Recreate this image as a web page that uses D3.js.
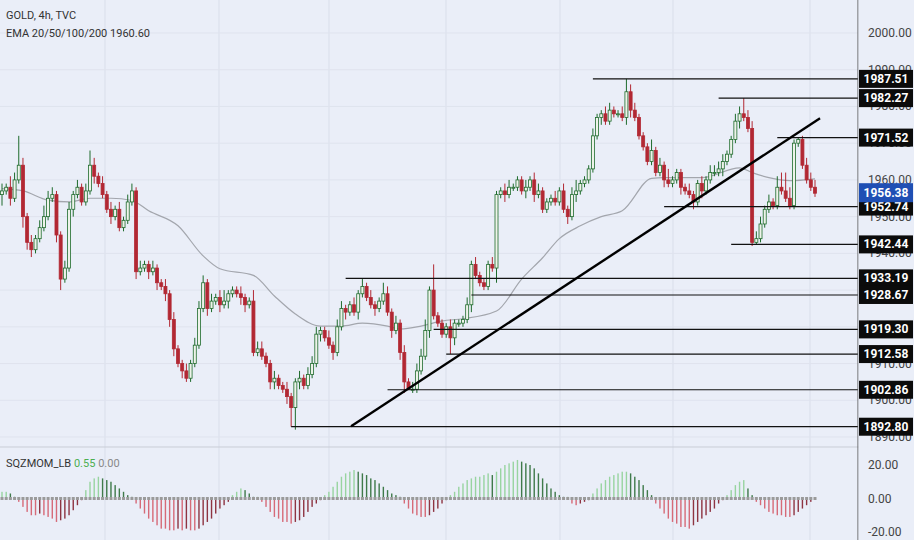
<!DOCTYPE html>
<html><head><meta charset="utf-8">
<script src="https://cdn.jsdelivr.net/npm/d3@7"></script>
<style>body{margin:0;background:#eaeef8}svg{display:block}</style>
</head><body><div id="chart"></div>
<script>
// closes per 4h bar (open = previous close)
var closes = [1957,1958,1955,1960,1964, 1950,1943,1941,1944,1947, 1950,1955,1956,1945,1933,
  1936,1952,1956,1958,1954, 1957,1964,1961,1959,1956, 1952,1950,1952,1947,1949,
  1954,1957,1935,1936,1937, 1935,1936,1932,1931,1929, 1922,1914,1910,1908,1906,
  1910,1915,1925,1932,1925, 1927,1928,1926,1927,1929, 1930,1929,1928,1926,1927,
  1913,1914,1912,1910,1905, 1906,1904,1903,1901,1898, 1905,1906,1904,1907,1910,
  1918,1919,1917,1915,1913, 1920,1925,1924,1926,1924, 1929,1931,1928,1926,1925,
  1927,1929,1924,1919,1921, 1913,1905,1903,1903,1908, 1912,1919,1930,1923,1921,
  1918,1920,1917,1921,1921, 1922,1926,1937,1934,1932, 1931,1937,1936,1956,1957,
  1956,1958,1958,1960,1957, 1958,1960,1956,1957,1952, 1954,1955,1954,1957,1952,
  1950,1956,1957,1959,1960, 1963,1972,1977,1978,1976, 1979,1978,1978,1977,1984,
  1979,1977,1972,1969,1965, 1968,1962,1964,1960,1959, 1960,1962,1958,1957,1956,
  1954,1959,1957,1960,1962, 1962,1963,1965,1967,1971, 1976,1978,1977,1974,1943,
  1944,1948,1952,1954,1953, 1958,1957,1955,1953,1970, 1971,1964,1960,1958,1956.38];
var firstOpen = 1956;
// wick extension above / below body
var upWick = [2,1,3,2,8, 2,1,2,1,2, 3,2,2,1,1, 2,2,1,2,1, 2,4,2,1,2, 1,2,1,2,1,
  2,2,1,2,1, 1,2,1,1,2, 1,2,1,1,2, 1,2,2,2,1, 2,1,2,3,1, 1,1,2,1,1, 3,2,2,1,1,
  2,1,1,2,1, 1,2,1,2,2, 2,1,1,2,1, 2,2,1,1,2, 1,2,1,2,1, 1,3,2,1,2, 1,2,1,2,2,
  2,3,1,3,1, 1,1,2,1,1, 1,2,1,2,1, 1,1,2,1,1, 2,2,1,1,1, 2,1,2,2,1, 1,1,2,1,2,
  1,2,3,1,1, 1,2,1,1,2, 2,1,1,2,2, 2,2,1,1,1, 3,1,2,1,3, 1,1,1,1,2, 1,1,2,1,2,
  2,2,2,1,1, 2,2,1,2,2, 2,2,1,2,1, 3,4,5,3,1, 1,1,2,2,2, 2,2,1,2,1, 0,2,1,2,1];
var downWick = [3,1,2,1,1, 3,2,2,1,1, 1,1,1,2,3, 1,1,2,1,1, 1,1,2,1,1, 1,2,1,1,1,
  1,1,2,1,1, 2,1,2,1,2, 2,2,1,2,1, 1,1,1,1,2, 1,1,2,1,2, 1,1,2,2,1, 1,1,1,1,2,
  2,1,1,2,1, 6,2,1,1,1, 1,2,1,1,2, 1,1,2,1,1, 2,1,1,1,2, 1,1,1,2,1, 2,3,1,1,1,
  1,1,2,1,1, 1,1,1,2,1, 1,1,2,1,1, 1,1,1,4,1, 2,1,1,1,1, 2,1,2,1,1, 1,1,1,1,1,
  2,1,2,1,1, 1,1,1,2,1, 1,1,1,1,2, 2,1,1,1,1, 1,1,1,2,1, 1,1,2,1,1, 2,1,2,1,1,
  1,1,2,1,1, 1,2,1,1,1, 2,1,1,1,1, 1,1,1,1,1, 1,1,1,1,1, 2,2,1,2,1, 1,1,1,1,2];
// EMA (index, value)
var emaPts = [[0,1957.6],[5,1957],[11,1954.5],[16,1954],[21,1955],[26,1955],[31,1954.4],[35,1951.6],
  [42,1947.5],[48,1939.3],[52,1935.8],[60,1934],[65,1928.4],[70,1923.5],[76,1920.2],[81,1920.2],
  [86,1921],[92,1920.2],[95,1919.4],[100,1920.2],[105,1921.6],[110,1922.2],[118,1924.3],[124,1933],
  [129,1938.8],[133,1944],[138,1947.5],[143,1950],[148,1951.6],[155,1960.4],[158,1960.6],[167,1960.6],
  [176,1963.3],[179,1962],[183,1960.6],[188,1959.8],[194,1960.3]];
// horizontal levels: price, start bar
var levels = [1987.51,1982.27,1971.52,1952.74,1942.44,1933.19,1928.67,1919.30,1912.58,1902.86,1892.80];
var levelStart = [141,171,185,158,174,82,112,103,106,92,69];
var trend = [[83.3,1892.9],[195.2,1976.8]];
var priceTicks = [2000,1990,1980,1970,1960,1950,1940,1930,1920,1910,1900,1890];
var lastPrice = 1956.38;
// squeeze momentum histogram
var mom = [4,4,3,1,
  -2,-5,-8,-10,-10,-9,-10,-11,-12,-14,-13,-12,-10,-7,-4,-1,
  5,10,12,13,12,11,10,8,6,4,2,1,
  -3,-6,-9,-12,-14,-16,-18,-18,-19,-19,-18,-19,-18,-19,-19,-18,-16,-14,-12,-9,-6,-4,-2,
  2,4,6,5,3,1,1,
  -2,-5,-8,-11,-12,-14,-14,-15,-14,-13,-11,-8,-5,-3,-1,
  2,4,7,10,13,15,16,17,16,15,14,12,11,9,7,5,3,2,1,
  -3,-6,-9,-10,-11,-11,-10,-8,-6,-3,-1,
  2,4,7,9,11,12,13,13,14,15,14,16,18,20,21,22,23,22,21,20,18,15,12,9,6,4,2,1,1,
  -3,-4,-3,-2,-1,
  3,6,9,11,13,14,15,16,16,15,13,11,8,5,2,
  -3,-6,-9,-12,-14,-15,-17,-17,-18,-16,-14,-12,-10,-8,-6,-3,-1,
  2,5,8,10,11,6,2,
  -2,-4,-6,-8,-9,-10,-10,-11,-11,-10,-8,-6,-4,-2,0.55];
var momTicks = [20,0,-20];
var vGrid = [105,219,329,446,560,673,810];

var W = 914, H = 540, axisX = 858, panelY = 447;
var svg = d3.select('#chart').append('svg').attr('width', W).attr('height', H);
svg.append('rect').attr('width', W).attr('height', H).attr('fill', '#eaeef8');

var x = d3.scaleLinear().domain([0, 194]).range([2, 815]);
var y = d3.scaleLinear().domain([1890, 2000]).range([437, 33]);
var ym = d3.scaleLinear().domain([-20, 20]).range([532, 465]);

// grid
svg.selectAll('.vg').data(vGrid).enter().append('line')
    .attr('x1', d => d).attr('x2', d => d).attr('y1', 0).attr('y2', H)
    .attr('stroke', '#d9deea').attr('stroke-width', 1);
svg.selectAll('.hg').data(priceTicks).enter().append('line')
    .attr('x1', 0).attr('x2', axisX).attr('y1', d => y(d)).attr('y2', d => y(d))
    .attr('stroke', '#dfe3ee').attr('stroke-width', 1);

// ema
svg.append('path').datum(emaPts)
    .attr('d', d3.line().x(d => x(d[0])).y(d => y(d[1])).curve(d3.curveMonotoneX))
    .attr('fill', 'none').attr('stroke', '#a3a6ad').attr('stroke-width', 1.2);

// candles
var bars = closes.map(function(c, i) {
    var o = i === 0 ? firstOpen : closes[i - 1];
    return {i: i, o: o, c: c, h: Math.max(o, c) + upWick[i], l: Math.min(o, c) - downWick[i]};
});
// pin key extremes to the marked levels
bars[69].l = 1892.8; bars[97].l = 1902.86; bars[103].h = 1937; bars[107].l = 1912.58;
bars[149].h = 1987.51; bars[177].h = 1982.27; bars[180].l = 1942.44; bars[190].h = 1971.52;

var gC = svg.append('g');
gC.selectAll('.wick').data(bars).enter().append('line')
    .attr('x1', d => x(d.i)).attr('x2', d => x(d.i))
    .attr('y1', d => y(d.h)).attr('y2', d => y(d.l))
    .attr('stroke', d => d.c >= d.o ? '#1e6b2c' : '#b22833').attr('stroke-width', 1);
gC.selectAll('.body').data(bars).enter().append('rect')
    .attr('x', d => x(d.i) - 1.5).attr('width', 3)
    .attr('y', d => y(Math.max(d.o, d.c)))
    .attr('height', d => Math.max(1, Math.abs(y(d.o) - y(d.c))))
    .attr('fill', d => d.c >= d.o ? '#eef3ea' : '#b22833')
    .attr('stroke', d => d.c >= d.o ? '#1e6b2c' : '#b22833').attr('stroke-width', 0.8);

// levels
svg.selectAll('.lvl').data(levels).enter().append('line')
    .attr('x1', (d, i) => x(levelStart[i])).attr('x2', axisX)
    .attr('y1', d => y(d)).attr('y2', d => y(d))
    .attr('stroke', '#111').attr('stroke-width', 1.2);

// trendline
svg.append('line')
    .attr('x1', x(trend[0][0])).attr('y1', y(trend[0][1]))
    .attr('x2', x(trend[1][0])).attr('y2', y(trend[1][1]))
    .attr('stroke', '#000').attr('stroke-width', 2.4);

// panel separators
svg.append('line').attr('x1', 0).attr('x2', W).attr('y1', panelY).attr('y2', panelY)
    .attr('stroke', '#c9cdd6').attr('stroke-width', 1);
svg.append('line').attr('x1', axisX).attr('x2', axisX).attr('y1', 0).attr('y2', H)
    .attr('stroke', '#555').attr('stroke-width', 1);

// price axis
svg.append('rect').attr('x', axisX + 0.5).attr('y', 0).attr('width', W - axisX).attr('height', H).attr('fill', '#eaeef8');
svg.selectAll('.pt').data(priceTicks).enter().append('text')
    .attr('x', 868).attr('y', d => y(d) + 4).text(d => d.toFixed(2))
    .attr('font-family', 'Roboto, sans-serif').attr('font-size', '12px').attr('fill', '#444');
var gL = svg.selectAll('.lb').data(levels).enter().append('g')
    .attr('transform', d => `translate(${axisX + 1}, ${y(d) - 9})`);
gL.append('rect').attr('width', 54).attr('height', 18).attr('fill', '#0b0b0b');
gL.append('text').attr('x', 27).attr('y', 13).attr('text-anchor', 'middle').text(d => d.toFixed(2))
    .attr('font-family', 'Roboto, sans-serif').attr('font-size', '12px').attr('font-weight', 'bold').attr('fill', '#fff');
var gP = svg.append('g').attr('transform', `translate(${axisX + 1}, ${y(lastPrice) - 10})`);
gP.append('rect').attr('width', 54).attr('height', 19).attr('fill', '#1f4fb4');
gP.append('text').attr('x', 27).attr('y', 14).attr('text-anchor', 'middle').text(lastPrice.toFixed(2))
    .attr('font-family', 'Roboto, sans-serif').attr('font-size', '12px').attr('font-weight', 'bold').attr('fill', '#fff');

// momentum histogram
var momBars = mom.map(function(v, i) {
    var prev = i === 0 ? v : mom[i - 1];
    var col = v >= 0 ? (v >= prev ? '#98d4a0' : '#3f7a4a') : (v <= prev ? '#d66a78' : '#8e3442');
    return {i: i, v: v, col: col};
});
svg.selectAll('.mb').data(momBars).enter().append('rect')
    .attr('x', d => x(d.i) - 0.7).attr('width', 1.4)
    .attr('y', d => Math.min(ym(d.v), ym(0))).attr('height', d => Math.abs(ym(d.v) - ym(0)))
    .attr('fill', d => d.col);
svg.selectAll('.mz').data(momBars).enter().append('rect')
    .attr('x', d => x(d.i) - 1.5).attr('y', ym(0) - 1.5).attr('width', 3).attr('height', 3)
    .attr('fill', '#9a9a9a');
svg.selectAll('.mt').data(momTicks).enter().append('text')
    .attr('x', 868).attr('y', d => ym(d) + 4).text(d => d.toFixed(2))
    .attr('font-family', 'Roboto, sans-serif').attr('font-size', '12px').attr('fill', '#444');

// legends
var leg = svg.append('g').attr('font-family', 'Roboto, sans-serif').attr('font-size', '11px').attr('fill', '#333');
leg.append('text').attr('x', 6).attr('y', 19).text('GOLD, 4h, TVC');
leg.append('text').attr('x', 6).attr('y', 37).text('EMA 20/50/100/200  1960.60');
var t = leg.append('text').attr('x', 6).attr('y', 467);
t.append('tspan').text('SQZMOM_LB ');
t.append('tspan').attr('fill', '#4caf50').text('0.55 ');
t.append('tspan').attr('fill', '#888').text('0.00');
</script>
</body></html>
